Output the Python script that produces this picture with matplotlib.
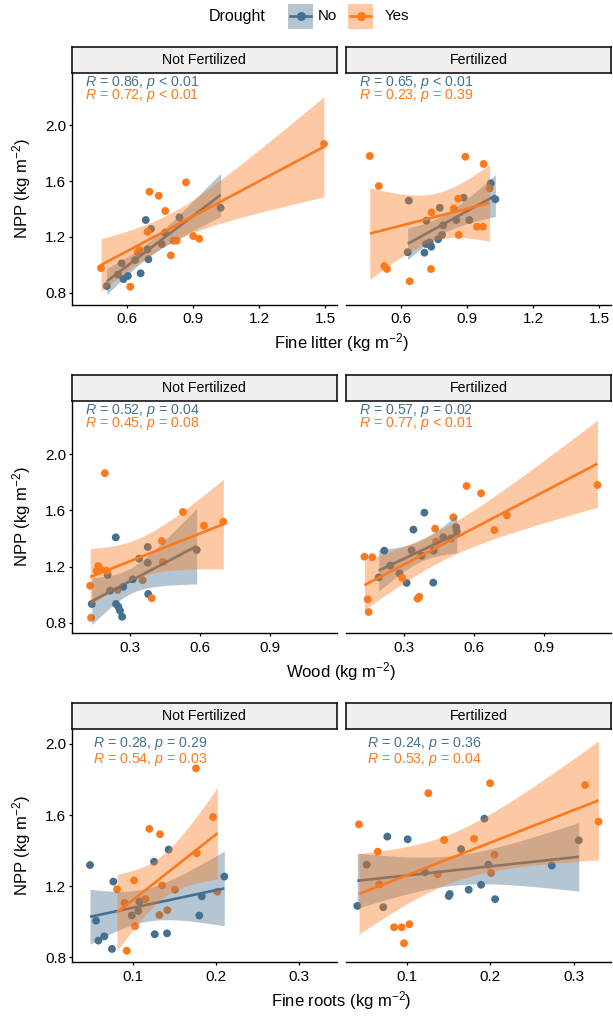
import numpy as np
import matplotlib
matplotlib.use("Agg")
import matplotlib.pyplot as plt
from matplotlib.patches import Rectangle
from matplotlib.lines import Line2D

plt.rcParams["font.family"] = ["Liberation Sans", "DejaVu Sans"]
plt.rcParams["mathtext.fontset"] = "custom"
plt.rcParams["mathtext.rm"] = "Liberation Sans"
plt.rcParams["mathtext.it"] = "Liberation Sans:italic"
plt.rcParams["mathtext.default"] = "regular"

# ---------------- data ----------------
# Fine litter vs NPP
litter_nf_no_x = [0.509, 0.577, 0.585, 0.605, 0.663, 0.686, 0.698, 0.710, 0.694, 0.638,
                  0.759, 0.774, 0.839, 1.026, 0.560]
litter_nf_no_y = [0.848, 1.011, 0.898, 0.920, 0.939, 1.321, 1.040, 1.257, 1.111, 1.034,
                  1.149, 1.230, 1.340, 1.409, 0.930]
litter_nf_yes_x = [0.483, 0.616, 0.657, 0.694, 0.703, 0.745, 0.775, 0.800, 0.812, 0.827,
                   0.869, 0.902, 0.929, 1.495, 0.650]
litter_nf_yes_y = [0.977, 0.843, 1.106, 1.237, 1.524, 1.495, 1.386, 1.068, 1.173, 1.173,
                   1.591, 1.206, 1.187, 1.866, 1.090]
litter_f_no_x = [0.630, 0.635, 0.706, 0.713, 0.730, 0.737, 0.715, 0.776, 0.768, 0.786,
                 0.791, 0.851, 0.884, 0.910, 1.007, 1.028]
litter_f_no_y = [1.090, 1.460, 1.087, 1.149, 1.161, 1.130, 1.316, 1.409, 1.183, 1.214,
                 1.283, 1.321, 1.481, 1.321, 1.584, 1.470]
litter_f_yes_x = [0.458, 0.499, 0.524, 0.536, 0.639, 0.736, 0.738, 0.839, 0.859, 0.862,
                  0.892, 0.945, 0.972, 0.975, 1.002]
litter_f_yes_y = [1.780, 1.565, 0.991, 0.970, 0.882, 0.970, 1.376, 1.405, 1.474, 1.214,
                  1.775, 1.273, 1.273, 1.723, 1.548]

# Wood vs NPP
wood_nf_no_x = [0.136, 0.239, 0.204, 0.214, 0.240, 0.250, 0.257, 0.266, 0.271, 0.312,
                0.339, 0.376, 0.376, 0.378, 0.586]
wood_nf_no_y = [0.933, 1.408, 1.140, 1.028, 0.933, 0.914, 0.885, 0.842, 1.056, 1.109,
                1.256, 1.339, 1.227, 1.004, 1.318]
wood_nf_yes_x = [0.192, 0.129, 0.133, 0.164, 0.157, 0.174, 0.200, 0.247, 0.354, 0.393,
                 0.436, 0.441, 0.527, 0.617, 0.700]
wood_nf_yes_y = [1.865, 1.063, 0.835, 1.204, 1.170, 1.180, 1.170, 1.033, 1.102, 0.974,
                 1.382, 1.232, 1.589, 1.491, 1.520]
wood_f_no_x = [0.214, 0.190, 0.240, 0.279, 0.310, 0.339, 0.331, 0.374, 0.386, 0.424,
               0.426, 0.467, 0.500, 0.522, 0.525]
wood_f_no_y = [1.313, 1.123, 1.206, 1.152, 1.083, 1.463, 1.316, 1.277, 1.584, 1.085,
               1.313, 1.408, 1.401, 1.480, 1.450]
wood_f_yes_x = [0.129, 0.162, 0.143, 0.147, 0.357, 0.364, 0.432, 0.436, 0.510, 0.567,
                0.629, 0.686, 0.740, 1.128, 0.290]
wood_f_yes_y = [1.270, 1.266, 0.966, 0.876, 0.971, 0.985, 1.470, 1.377, 1.551, 1.774,
                1.722, 1.460, 1.565, 1.781, 1.120]

# Fine roots vs NPP
roots_nf_no_x = [0.0487, 0.0559, 0.0587, 0.0659, 0.0751, 0.0767, 0.0988, 0.1067, 0.1080,
                 0.1264, 0.1256, 0.1412, 0.1432, 0.1800, 0.1830, 0.2100]
roots_nf_no_y = [1.319, 1.006, 0.894, 0.918, 0.847, 1.226, 1.035, 1.061, 1.113,
                 0.930, 1.338, 0.935, 1.406, 1.035, 1.143, 1.254]
roots_nf_yes_x = [0.1760, 0.1965, 0.1200, 0.1328, 0.1770, 0.1016, 0.0811, 0.0904, 0.1152,
                  0.1352, 0.1508, 0.1320, 0.1416, 0.1028, 0.0928, 0.2017]
roots_nf_yes_y = [1.863, 1.589, 1.522, 1.492, 1.385, 1.233, 1.183, 1.106, 1.127,
                  1.205, 1.180, 1.038, 1.065, 0.975, 0.837, 1.169]
roots_f_no_x = [0.0403, 0.0516, 0.0763, 0.0715, 0.1008, 0.1216, 0.1501, 0.1513, 0.1649,
                0.1741, 0.1889, 0.1929, 0.1977, 0.2058, 0.2739, 0.3063]
roots_f_no_y = [1.089, 1.321, 1.479, 1.082, 1.464, 1.278, 1.145, 1.156, 1.408,
                1.180, 1.208, 1.580, 1.321, 1.127, 1.316, 1.458]
roots_f_yes_x = [0.0423, 0.0648, 0.0667, 0.0844, 0.0936, 0.1028, 0.0964, 0.1256, 0.1369,
                 0.1445, 0.1805, 0.1998, 0.2010, 0.2050, 0.3140, 0.3300]
roots_f_yes_y = [1.548, 1.394, 1.211, 0.969, 0.969, 0.986, 0.879, 1.723, 1.267,
                 1.460, 1.467, 1.779, 1.274, 1.377, 1.769, 1.563]

facet_labels = ["Not Fertilized", "Fertilized"]
drought_levels = ["No", "Yes"]
row_xlabels = ["Fine litter", "Wood", "Fine roots"]
y_ticks = [0.8, 1.2, 1.6, 2.0]
row_xticks = [[0.6, 0.9, 1.2, 1.5], [0.3, 0.6, 0.9], [0.1, 0.2, 0.3]]

# correlation annotations: [row][facet] -> (No R, No p, Yes R, Yes p)
cor_labels = [
    [("0.86", "< 0.01", "0.72", "< 0.01"), ("0.65", "< 0.01", "0.23", "= 0.39")],
    [("0.52", "= 0.04", "0.45", "= 0.08"), ("0.57", "= 0.02", "0.77", "< 0.01")],
    [("0.28", "= 0.29", "0.54", "= 0.03"), ("0.24", "= 0.36", "0.53", "= 0.04")],
]

rows = [
    [((litter_nf_no_x, litter_nf_no_y), (litter_nf_yes_x, litter_nf_yes_y)),
     ((litter_f_no_x, litter_f_no_y), (litter_f_yes_x, litter_f_yes_y))],
    [((wood_nf_no_x, wood_nf_no_y), (wood_nf_yes_x, wood_nf_yes_y)),
     ((wood_f_no_x, wood_f_no_y), (wood_f_yes_x, wood_f_yes_y))],
    [((roots_nf_no_x, roots_nf_no_y), (roots_nf_yes_x, roots_nf_yes_y)),
     ((roots_f_no_x, roots_f_no_y), (roots_f_yes_x, roots_f_yes_y))],
]

# ---------------- styling ----------------
COLORS = {"No": "#46708F", "Yes": "#FC7A1E"}
RIB_ALPHA = 0.4
W, H = 613, 1016
fig = plt.figure(figsize=(W / 100, H / 100), dpi=100)

row_xlim = [(0.35, 1.553), (0.05, 1.186), (0.0267, 0.345)]
row_ylim = [(0.712, 2.377), (0.724, 2.382), (0.772, 2.084)]
row_axes_top = [72.7, 400.7, 729.0]
row_axes_bottom = [305.0, 633.3, 962.3]
row_label_y = [(2.305, 2.210), (2.309, 2.216), (2.000, 1.910)]
row_label_x = [0.41, 0.107, 0.052]
col_left = [71.7, 346.0]
panel_w = 265.0
strip_h = 26.0


def t_quantile(df, z=1.959964):
    # Cornish-Fisher expansion of Student's t 97.5% quantile
    return (z + (z**3 + z) / (4 * df) + (5 * z**5 + 16 * z**3 + 3 * z) / (96 * df**2)
            + (3 * z**7 + 19 * z**5 + 17 * z**3 - 15 * z) / (384 * df**3))


def lm_band(x, y, n=100):
    x = np.asarray(x, float)
    y = np.asarray(y, float)
    b1, b0 = np.polyfit(x, y, 1)
    xs = np.linspace(x.min(), x.max(), n)
    fit = b0 + b1 * xs
    resid = y - (b0 + b1 * x)
    dof = len(x) - 2
    s = np.sqrt(np.sum(resid**2) / dof)
    se = s * np.sqrt(1 / len(x) + (xs - x.mean())**2 / np.sum((x - x.mean())**2))
    t = t_quantile(dof)
    return xs, fit, fit - t * se, fit + t * se


for r in range(3):
    top = row_axes_top[r]
    bot = row_axes_bottom[r]
    for c in range(2):
        left = col_left[c]
        ax = fig.add_axes([left / W, 1 - bot / H, panel_w / W, (bot - top) / H])
        groups = rows[r][c]
        # points first, then the fitted smooths drawn over them
        for lvl, (gx, gy) in zip(drought_levels, groups):
            ax.scatter(gx, gy, s=32, color=COLORS[lvl], edgecolors="none", zorder=2)
        for k, (lvl, (gx, gy)) in enumerate(zip(drought_levels, groups)):
            xs, fit, lo, hi = lm_band(gx, gy)
            ax.fill_between(xs, lo, hi, color=COLORS[lvl], alpha=RIB_ALPHA,
                            linewidth=0, zorder=3 + 2 * k)
            ax.plot(xs, fit, color=COLORS[lvl], lw=1.9, zorder=4 + 2 * k,
                    solid_capstyle="butt")
        ax.set_xlim(*row_xlim[r])
        ax.set_ylim(*row_ylim[r])
        ax.set_xticks(row_xticks[r])
        ax.set_xticklabels([f"{v:.1f}" for v in row_xticks[r]])
        ax.set_yticks(y_ticks)
        for side in ("top", "right"):
            ax.spines[side].set_visible(False)
        ax.spines["bottom"].set_linewidth(1.0)
        ax.spines["left"].set_linewidth(1.0)
        ax.tick_params(labelsize=11, width=0.9, length=2.5, colors="black")
        ax.tick_params(axis="x", pad=2.8)
        ax.tick_params(axis="y", pad=1.3)
        if c == 0:
            ax.set_yticklabels([f"{v:.1f}" for v in y_ticks])
        else:
            ax.set_yticklabels([])
            ax.tick_params(axis="y", length=0)
            ax.spines["left"].set_visible(False)
        ax.patch.set_alpha(0)

        # correlation text
        rn, pn, ry, py = cor_labels[r][c]
        ly_no, ly_yes = row_label_y[r]
        ax.text(row_label_x[r], ly_no, rf"$\it{{R}}$ = {rn}, $\it{{p}}$ {pn}",
                color=COLORS["No"], fontsize=10.2, va="center", ha="left", zorder=10)
        ax.text(row_label_x[r], ly_yes, rf"$\it{{R}}$ = {ry}, $\it{{p}}$ {py}",
                color=COLORS["Yes"], fontsize=10.2, va="center", ha="left", zorder=10)

        # facet strip
        sax = fig.add_axes([left / W, 1 - top / H, panel_w / W, strip_h / H])
        sax.set_facecolor("#F0F0F0")
        sax.set_xticks([])
        sax.set_yticks([])
        for sp in sax.spines.values():
            sp.set_linewidth(1.1)
        sax.text(0.5, 0.5, facet_labels[c], ha="center", va="center", fontsize=10.2)

    # axis titles
    fig.text(341 / W, 1 - (bot + 38) / H, f"{row_xlabels[r]} (kg m$^{{-2}}$)",
             ha="center", va="center", fontsize=12)
    fig.text(22 / W, 1 - ((top + bot) / 2) / H, "NPP (kg m$^{-2}$)",
             ha="center", va="center", rotation=90, fontsize=12)

# legend
fig.text(237 / W, 1 - 16.5 / H, "Drought", ha="center", va="center", fontsize=11.5)
key_boxes = [(288.3, "No", 318.0), (348.3, "Yes", 385.0)]
for x0, lvl, tx in key_boxes:
    fig.patches.append(Rectangle((x0 / W, 1 - 28.5 / H), 24.4 / W, 24.5 / H,
                                 transform=fig.transFigure, facecolor=COLORS[lvl],
                                 alpha=RIB_ALPHA, edgecolor="none"))
    fig.lines.append(Line2D([(x0 + 2) / W, (x0 + 22.4) / W], [1 - 16.3 / H] * 2,
                            transform=fig.transFigure, color=COLORS[lvl], lw=1.9))
    fig.lines.append(Line2D([(x0 + 12.2) / W], [1 - 16.3 / H], transform=fig.transFigure,
                            color=COLORS[lvl], marker="o", markersize=5.5, lw=0))
    fig.text(tx / W, 1 - 16.5 / H, lvl, ha="left", va="center", fontsize=10.8)

fig.savefig("out.png", dpi=100, facecolor="white")
